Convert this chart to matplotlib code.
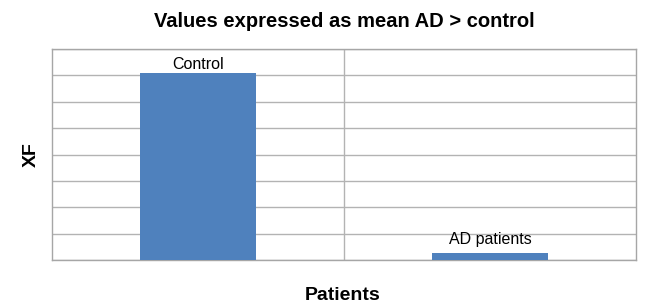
import matplotlib.pyplot as plt

plt.rcParams['font.family'] = ['Liberation Sans', 'DejaVu Sans']

# data
categories = ['Control', 'AD patients']
values = [7.1, 0.25]

fig = plt.figure(figsize=(6.46, 3.03), dpi=100)
ax = fig.add_axes([0.0805, 0.1419, 0.904, 0.6961])

x = list(range(len(categories)))
bars = ax.bar(x, values, width=0.4, color='#4F81BD', zorder=3)

ax.set_xlim(-0.5, len(categories) - 0.5)
ax.set_ylim(0, 8)
ax.set_yticks(range(0, 9))
ax.yaxis.grid(True, color='#B3B3B3', linewidth=1, zorder=0)
ax.set_yticklabels([])
ax.set_xticks([])
ax.tick_params(length=0)

# separator between categories
for i in range(len(categories) - 1):
    ax.axvline(i + 0.5, color='#B3B3B3', linewidth=1, zorder=0)

for s in ax.spines.values():
    s.set_color('#A6A6A6')
    s.set_linewidth(1)

label_pad = [3, 7]  # points above bar
for b, lab, pad in zip(bars, categories, label_pad):
    ax.annotate(lab, (b.get_x() + b.get_width() / 2, b.get_height()),
                xytext=(0, pad), textcoords='offset points',
                ha='center', va='baseline', fontsize=11.5)

fig.text(0.533, 0.911, 'Values expressed as mean AD > control',
         ha='center', va='baseline', fontsize=14.5, fontweight='bold')
fig.text(0.531, 0.01, 'Patients', ha='center', va='baseline',
         fontsize=14, fontweight='bold')
fig.text(0.048, 0.49, 'XF', ha='center', va='center', rotation=90,
         fontsize=14, fontweight='bold')

fig.savefig('out.png', dpi=100)
